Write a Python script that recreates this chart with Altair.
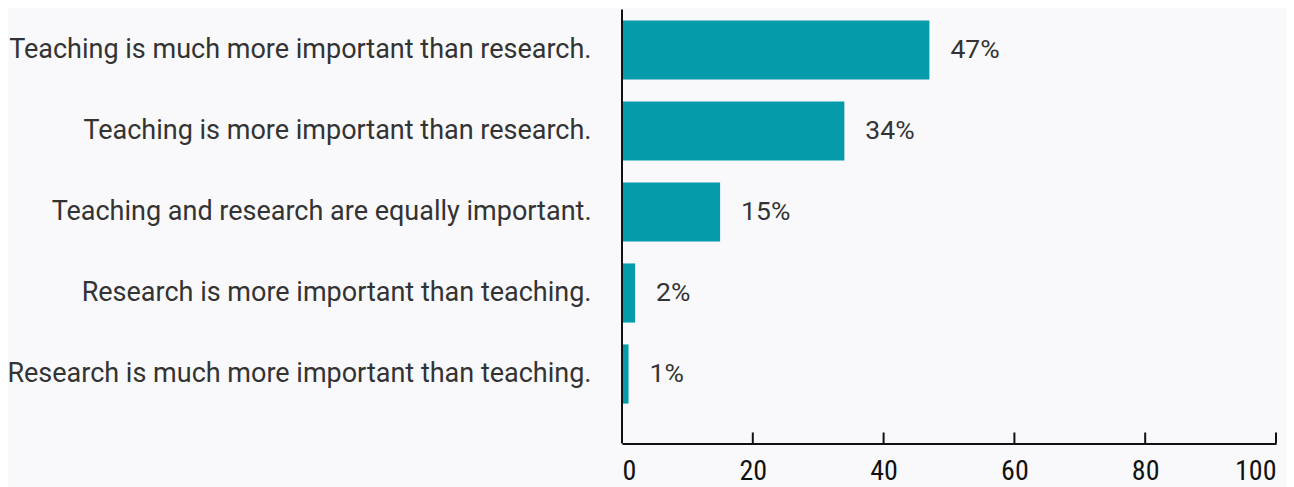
import altair as alt
import pandas as pd

categories = [
    "Teaching is much more important than research.",
    "Teaching is more important than research.",
    "Teaching and research are equally important.",
    "Research is more important than teaching.",
    "Research is much more important than teaching.",
]
values = [47, 34, 15, 2, 1]
tick_values = [0, 20, 40, 60, 80, 100]

df = pd.DataFrame({"cat": categories, "val": values,
                   "lab": [f"{v}%" for v in values]})
ticks_df = pd.DataFrame({"t": tick_values[1:]})

W = 654
H = 434
TEAL = "#069BAA"

yscale = alt.Scale(domain=categories, range=[0, 405], paddingInner=0.27, paddingOuter=0.135)
xscale = alt.Scale(domain=[0, 100], nice=False)

bars = alt.Chart(df).mark_bar(color=TEAL).encode(
    x=alt.X("val:Q", scale=xscale,
            axis=alt.Axis(values=tick_values, title=None, ticks=False, grid=False,
                          domainColor="#111111", domainWidth=2,
                          labelFont="Roboto Condensed, DejaVu Sans Condensed, Liberation Sans Narrow, Roboto",
                          labelFontSize=28, labelColor="#111111", labelPadding=14,
                          labelFlush=True)),
    y=alt.Y("cat:N", scale=yscale, sort=categories,
            axis=alt.Axis(title=None, ticks=False, domain=False, grid=False,
                          labelFont="Roboto", labelFontSize=27, labelColor="#333333",
                          labelPadding=31, labelLimit=0)),
)

texts = alt.Chart(df).mark_text(align="left", baseline="middle", dx=21,
                                font="Roboto", fontSize=26.5, color="#333333").encode(
    x=alt.X("val:Q", scale=xscale),
    y=alt.Y("cat:N", scale=yscale, sort=categories),
    text="lab:N",
)

vline = alt.Chart(pd.DataFrame({"z": [0]})).mark_rule(color="#111111", strokeWidth=2).encode(
    x=alt.X("z:Q", scale=xscale),
    y=alt.value(0),
    y2=alt.value(H),
)

tick_marks = alt.Chart(ticks_df).mark_rule(color="#111111", strokeWidth=2).encode(
    x=alt.X("t:Q", scale=xscale),
    y=alt.value(H - 11),
    y2=alt.value(H),
)

chart = alt.layer(bars, texts, vline, tick_marks).properties(
    width=W, height=H,
    background="#f9f9fb",
    autosize=alt.AutoSizeParams(type="none"),
    padding={"left": 614, "top": 1.5, "right": 10, "bottom": 43},
).configure_view(stroke=None)

chart.save("out.html", embed_options={"renderer": "svg", "actions": False})
